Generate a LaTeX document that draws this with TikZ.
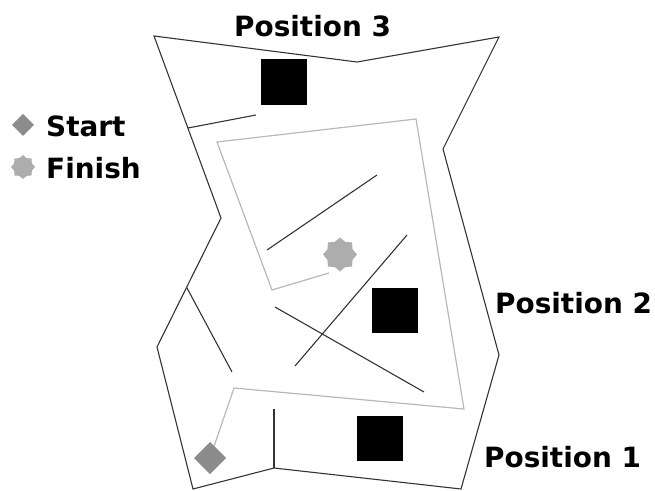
\documentclass[tikz,border=0pt]{standalone}
\usepackage{fontspec}
\setmainfont{DejaVu Sans}
\usetikzlibrary{shapes.geometric}
\definecolor{pathgray}{gray}{0.72}
\definecolor{startgray}{gray}{0.55}
\definecolor{finishgray}{gray}{0.68}
\definecolor{wallgray}{gray}{0.2}
\tikzset{
  wall/.style={draw=wallgray,line width=1.1pt,line join=miter},
  route/.style={draw=pathgray,line width=1.2pt},
  block/.style={fill=black,draw=none},
  lab/.style={font=\bfseries\fontsize{28}{28}\selectfont,text=black,anchor=west,inner sep=0pt},
}
\newcommand{\starshape}[3]{%
  \fill[finishgray] ({#1+#3},#2)
  \foreach \a in {22.5,45,...,337.5}{
    -- ({#1+(mod(\a,45)==0 ? #3 : 0.8*#3)*cos(\a)},{#2+(mod(\a,45)==0 ? #3 : 0.8*#3)*sin(\a)})
  } -- cycle;}
\begin{document}
\begin{tikzpicture}[x=1bp,y=-1bp]
\useasboundingbox (0,0) rectangle (655,491);
% outer wall
\draw[wall] (154,36) -- (357,62) -- (499,37) -- (443,149) -- (499,355) -- (461,489) -- (274,468) -- (193,489) -- (157,347) -- (221,218) -- cycle;
% inner walls
\coordinate (w1a) at (188,128); \coordinate (w1b) at (256,115);
\coordinate (w2a) at (187,288); \coordinate (w2b) at (232,372);
\coordinate (w3a) at (274,468); \coordinate (w3b) at (274,409);
\coordinate (w4a) at (275,307); \coordinate (w4b) at (424,392);
\coordinate (w5a) at (295,366); \coordinate (w5b) at (407,235);
\coordinate (w6a) at (267,250); \coordinate (w6b) at (377,175);
\draw[wall] (w1a) -- (w1b);
\draw[wall] (w2a) -- (w2b);
\draw[wall] (w3a) -- (w3b);
\draw[wall] (w4a) -- (w4b);
\draw[wall] (w5a) -- (w5b);
\draw[wall] (w6a) -- (w6b);
% route
\draw[route] (210,458) -- (234,388) -- (464,409) -- (416,119) -- (217,142) -- (272,290) -- (329,273);
% blocks
\fill[block] (261,59) rectangle (307,105);
\fill[block] (372,288) rectangle (418,333);
\fill[block] (357,416) rectangle (403,461);
% start and finish
\fill[startgray] (210,442) -- (226,458) -- (210,474) -- (194,458) -- cycle;
\starshape{340}{254.5}{17}
\fill[startgray] (23,114) -- (34,125) -- (23,136) -- (12,125) -- cycle;
\starshape{23}{167}{12}
% labels
\node[lab] (pos3) at (234,26) {Position 3};
\node[lab] (pos2) at (495,303) {Position 2};
\node[lab] (pos1) at (484,457) {Position 1};
\node[lab] (st) at (46,126) {Start};
\node[lab] (fi) at (46,168) {Finish};
\end{tikzpicture}
\end{document}
